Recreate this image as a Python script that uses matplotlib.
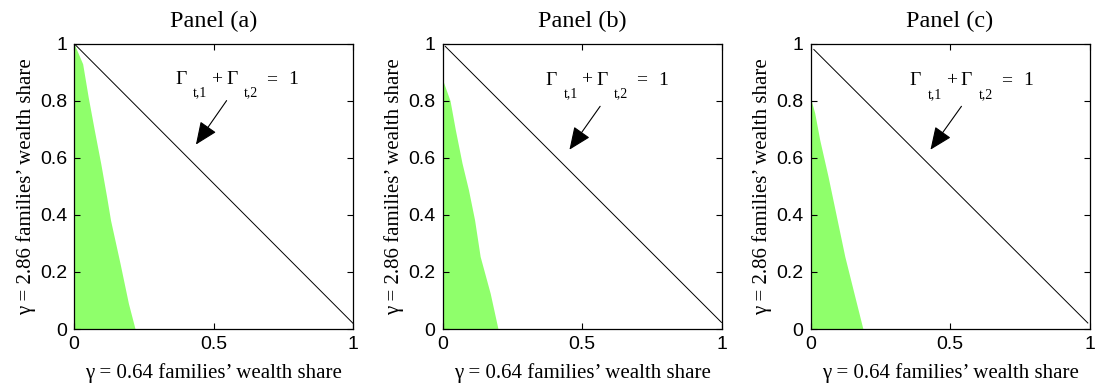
import matplotlib
matplotlib.use("Agg")
import matplotlib.pyplot as plt
import numpy as np

# ---- data ----
panel_titles = ["Panel (a)", "Panel (b)", "Panel (c)"]

# green region boundary (gamma=0.64 share as function of gamma=2.86 share)
region_y_a = [1.0, 0.929, 0.812, 0.696, 0.579, 0.463, 0.381, 0.230, 0.090, 0.0]
region_x_a = [0.0, 0.031, 0.051, 0.073, 0.096, 0.117, 0.131, 0.165, 0.195, 0.219]

region_y_b = [0.874, 0.80, 0.698, 0.581, 0.488, 0.382, 0.254, 0.125, 0.0]
region_x_b = [0.0, 0.027, 0.046, 0.070, 0.093, 0.115, 0.135, 0.171, 0.199]

region_y_c = [0.81, 0.757, 0.663, 0.534, 0.394, 0.254, 0.113, 0.0]
region_x_c = [0.0, 0.015, 0.033, 0.063, 0.093, 0.123, 0.159, 0.188]

# the line Gamma_t1 + Gamma_t2 = 1 (endpoints as drawn)
line_x_a = [0.0, 1.0]
line_y_a = [1.0, 0.02]
line_x_b = [0.01, 1.0]
line_y_b = [0.99, 0.023]
line_x_c = [0.012, 0.994]
line_y_c = [0.979, 0.021]

regions = [(region_x_a, region_y_a), (region_x_b, region_y_b), (region_x_c, region_y_c)]
lines = [(line_x_a, line_y_a), (line_x_b, line_y_b), (line_x_c, line_y_c)]

# annotation: text anchor (left, baseline) and arrow tail/head
text_anchor = [(0.362, 0.859), (0.368, 0.856), (0.356, 0.853)]
arrow_tail = [(0.547, 0.80), (0.565, 0.78), (0.541, 0.78)]
arrow_head = [(0.437, 0.646), (0.455, 0.628), (0.43, 0.628)]

xticks = [0, 0.5, 1]
xticklabels = ["0", "0.5", "1"]
yticks = [0, 0.2, 0.4, 0.6, 0.8, 1]
yticklabels = ["0", "0.2", "0.4", "0.6", "0.8", "1"]

xlabel = "\u03b3 = 0.64 families\u2019 wealth share"
ylabel = "\u03b3 = 2.86 families\u2019 wealth share"
# annotation pieces: (text, is_subscript)
annot_pieces = [("\u0393", False), ("t,1", True), ("+", False), ("\u0393", False),
                ("t,2", True), ("=", False), ("1", False)]

green = "#8FFF6B"
serif = "Liberation Serif"
sans = "Liberation Sans"

fig = plt.figure(figsize=(10.95, 3.89), dpi=100)
lefts = [74 / 1095, 442.5 / 1095, 810.5 / 1095]
bottom = (389 - 329) / 389
width = 279 / 1095
height = 285.5 / 389

# horizontal offsets (pixels) of annotation pieces from text left edge
piece_dx = [0, 18.3, 36.2, 51, 69, 91.2, 113.3]
sub_drop = 12.4

for i in range(3):
    ax = fig.add_axes([lefts[i], bottom, width, height])
    rx, ry = regions[i]
    ax.fill_betweenx(ry, 0, rx, color=green, linewidth=0)
    lx, ly = lines[i]
    ax.plot(lx, ly, color="black", linewidth=0.7)
    ax.set_xlim(0, 1)
    ax.set_ylim(0, 1)
    ax.set_xticks(xticks)
    ax.set_xticklabels(xticklabels, fontfamily=sans, fontsize=14)
    ax.set_yticks(yticks)
    ax.set_yticklabels(yticklabels, fontfamily=sans, fontsize=14)
    ax.tick_params(direction="in", length=4, width=0.8, top=True, right=True, pad=5)
    for s in ax.spines.values():
        s.set_linewidth(0.9)
    ax.set_title(panel_titles[i], fontfamily=serif, fontsize=17.5, pad=12)
    ax.set_xlabel(xlabel, fontfamily=serif, fontsize=15, labelpad=7)
    ax.set_ylabel(ylabel, fontfamily=serif, fontsize=15, labelpad=3)
    tx, ty = text_anchor[i]
    for (s, is_sub), dx in zip(annot_pieces, piece_dx):
        ax.annotate(s, xy=(tx, ty), xytext=(dx, -sub_drop if is_sub else 0),
                    textcoords="offset pixels", ha="left", va="baseline",
                    fontfamily=serif, fontsize=10 if is_sub else 14)
    ax.annotate("", xy=arrow_head[i], xytext=arrow_tail[i],
                arrowprops=dict(arrowstyle="-|>,head_length=0.7,head_width=0.3",
                                color="black", lw=0.8, mutation_scale=20,
                                shrinkA=0, shrinkB=0))

fig.savefig("out.png", dpi=100)
